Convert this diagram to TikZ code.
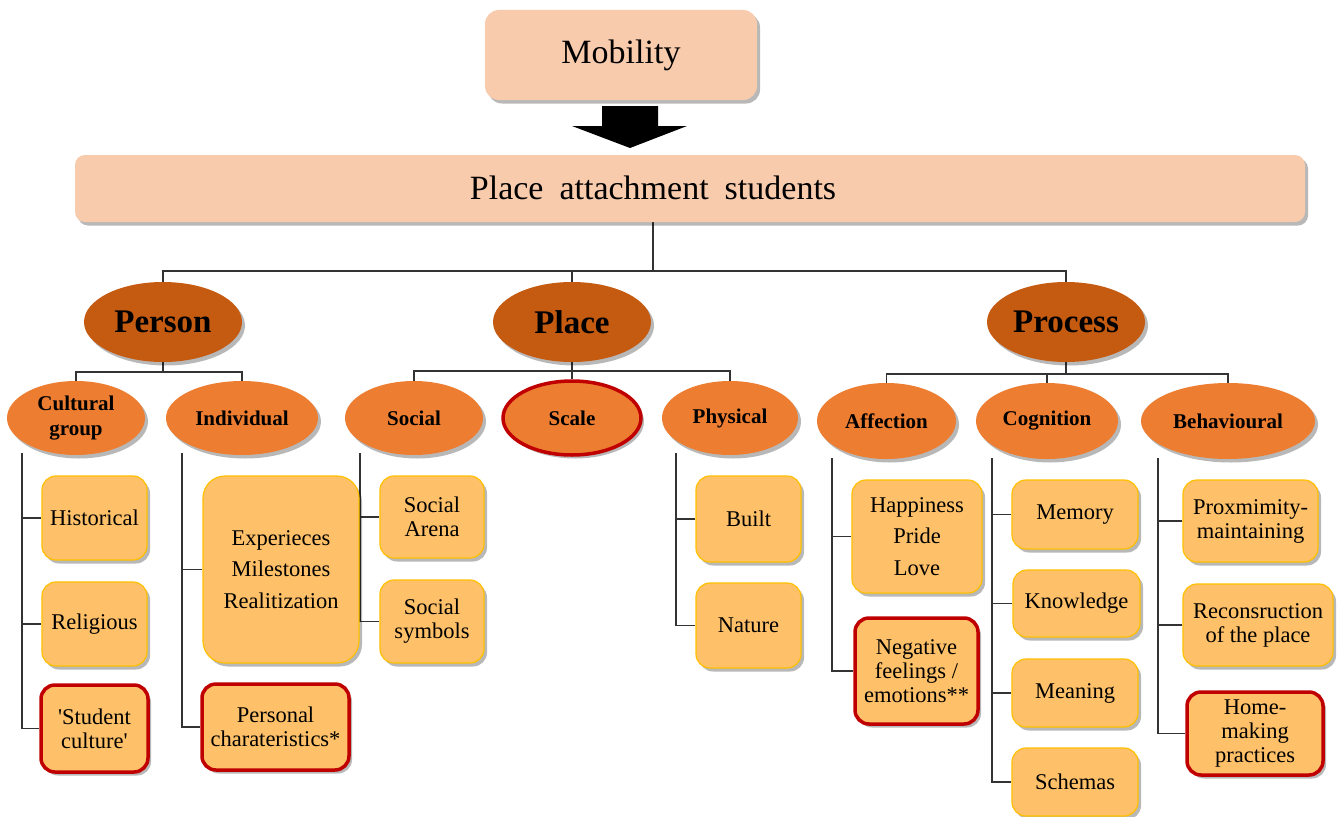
\documentclass[tikz,border=0pt]{standalone}
\usepackage{fontspec}
\setmainfont{Liberation Serif}
\usetikzlibrary{shapes.geometric,shadows}
\definecolor{peach}{HTML}{F8CBAD}
\definecolor{rust}{HTML}{C55A11}
\definecolor{tangerine}{HTML}{ED7D31}
\definecolor{apricot}{HTML}{FEC068}
\definecolor{goldline}{HTML}{FFC000}
\definecolor{crimson}{HTML}{C00000}
\definecolor{wirecol}{HTML}{333333}
\pgfdeclarelayer{bg}
\pgfsetlayers{bg,main}
\begin{document}
\begin{tikzpicture}[x=1pt,y=-1pt,
  sh/.style={drop shadow={shadow xshift=3pt,shadow yshift=-3.5pt,opacity=0.28,fill=black}},
  headbox/.style={rectangle,fill=peach,draw=none,inner sep=0pt,sh},
  topell/.style={ellipse,fill=rust,inner sep=0pt,sh,font=\bfseries\fontsize{33}{36}\selectfont},
  midell/.style={ellipse,fill=tangerine,inner sep=0pt,sh,align=center,font=\bfseries\fontsize{21}{25}\selectfont},
  leaf/.style={rectangle,rounded corners=14pt,fill=apricot,draw=goldline,line width=1.2pt,inner sep=0pt,sh,align=center,font=\fontsize{22.5}{24}\selectfont},
  loose/.style={font=\fontsize{22.5}{31.5}\selectfont},
  flag/.style={draw=crimson,line width=3.5pt},
  wh/.style 2 args={minimum width=#1pt,minimum height=#2pt},
  wire/.style={draw=wirecol,line width=1.9pt}]

% page
\begin{pgfonlayer}{bg}
  \fill[white] (0,0) rectangle (1343,816);
\end{pgfonlayer}
\useasboundingbox (0,0) rectangle (1343,816);

% header boxes and the block arrow between them
\node[headbox,rounded corners=14pt,wh={272}{90},font=\fontsize{34}{38}\selectfont] (mob) at (621,55) {Mobility};
\fill[black] (602,106) -- (658,106) -- (658,126) -- (687,126) -- (630,148) -- (572,126) -- (602,126) -- cycle;
\node[headbox,rounded corners=10pt,wh={1230}{67}] (pa) at (690,188.5) {};
\node[font=\fontsize{34}{38}\selectfont,inner sep=0pt] (patext) at (653,188) {Place\hspace{16pt}attachment\hspace{16pt}students};

% first level
\node[topell,wh={158}{80}] (person)  at (163,322) {Person};
\node[topell,wh={158}{80}] (place)   at (572,322) {Place};
\node[topell,wh={158}{80}] (process) at (1066,322) {Process};

% second level
\node[midell,wh={138}{74}] (cult)   at (76,418)   {Cultural\\group};
\node[midell,wh={152}{74}] (indiv)  at (242,418)  {Individual};
\node[midell,wh={138}{74}] (social) at (414,418)  {Social};
\node[midell,flag,wh={138}{74}] (scale) at (572,418) {Scale};
\node[midell,wh={136}{74}] (phys)   at (730,418)  {Physical};
\node[midell,wh={139}{76}] (affect) at (886.5,421) {Affection};
\node[midell,wh={142}{76}] (cogn)   at (1047,421) {Cognition};
\node[midell,wh={174}{76}] (behav)  at (1228,421) {Behavioural};

% leaves
\node[leaf,wh={105}{84}] (hist) at (94.5,518) {Historical};
\node[leaf,wh={105}{84}] (reli) at (94.5,624) {Religious};
\node[leaf,flag,wh={107}{87}] (stud) at (94.5,728.5) {\textquotesingle Student\\culture\textquotesingle};

\node[leaf,loose,rounded corners=22pt,wh={156}{187}] (exper) at (281,569.5) {Experieces\\Milestones\\Realitization};
\node[leaf,flag,wh={147}{86}] (pers) at (275.5,727) {Personal\\charateristics*};

\node[leaf,wh={104}{82}] (sarena) at (432,517)   {Social\\Arena};
\node[leaf,wh={104}{83}] (ssym)   at (432,621.5) {Social\\symbols};

\node[leaf,wh={105}{86}] (built)  at (748.5,519)   {Built};
\node[leaf,wh={105}{85}] (nature) at (748.5,625.5) {Nature};

\node[leaf,loose,wh={130}{113}] (happy) at (917,536.5) {Happiness\\Pride\\Love};
\node[leaf,flag,wh={123}{106}] (neg) at (916.5,671) {Negative\\feelings /\\emotions**};

\node[leaf,wh={126}{69}] (memory)  at (1075,514.5)   {Memory};
\node[leaf,wh={127}{67}] (knowl)   at (1076.5,603.5) {Knowledge};
\node[leaf,wh={126}{68}] (meaning) at (1075,693)     {Meaning};
\node[leaf,wh={126}{68}] (schemas) at (1075,782)     {Schemas};

\node[leaf,wh={135}{82}] (prox)  at (1250.5,521) {Proxmimity-\\maintaining};
\node[leaf,wh={150}{82}] (recon) at (1258,625)   {Reconsruction\\of the place};
\node[leaf,flag,wh={136}{83}] (home) at (1255,733.5) {Home-\\making\\practices};

% connectors, drawn beneath the shapes
\begin{pgfonlayer}{bg}
  \draw[wire] (patext |- pa.south) -- ++(0,49) coordinate (hub) -| (person.north);
  \draw[wire] (hub) -| (place.north);
  \draw[wire] (hub) -| (process.north);

  \draw[wire] (person.south) -- ++(0,10) coordinate (hubA) -| (cult.north);
  \draw[wire] (hubA) -| (indiv.north);
  \draw[wire] (place.south) -- ++(0,9) coordinate (hubB) -| (social.north);
  \draw[wire] (hubB) -| (scale.north);
  \draw[wire] (hubB) -| (phys.north);
  \draw[wire] (process.south) -- ++(0,12) coordinate (hubC) -| (affect.north);
  \draw[wire] (hubC) -| (cogn.north);
  \draw[wire] (hubC) -| (behav.north);

  \coordinate (cultbus)   at (22,453);
  \coordinate (indivbus)  at (182,453);
  \coordinate (socialbus) at (360,453);
  \coordinate (physbus)   at (676,453);
  \coordinate (affectbus) at (832,458);
  \coordinate (cognbus)   at (992,458);
  \coordinate (behavbus)  at (1158,458);

  \draw[wire] (cultbus) |- (hist.west);
  \draw[wire] (cultbus) |- (reli.west);
  \draw[wire] (cultbus) |- (stud.west);
  \draw[wire] (indivbus) |- (exper.west);
  \draw[wire] (indivbus) |- (pers.west);
  \draw[wire] (socialbus) |- (sarena.west);
  \draw[wire] (socialbus) |- (ssym.west);
  \draw[wire] (physbus) |- (built.west);
  \draw[wire] (physbus) |- (nature.west);
  \draw[wire] (affectbus) |- (happy.west);
  \draw[wire] (affectbus) |- (neg.west);
  \draw[wire] (cognbus) |- (memory.west);
  \draw[wire] (cognbus) |- (knowl.west);
  \draw[wire] (cognbus) |- (meaning.west);
  \draw[wire] (cognbus) |- (schemas.west);
  \draw[wire] (behavbus) |- (prox.west);
  \draw[wire] (behavbus) |- (recon.west);
  \draw[wire] (behavbus) |- (home.west);
\end{pgfonlayer}
\end{tikzpicture}
\end{document}
